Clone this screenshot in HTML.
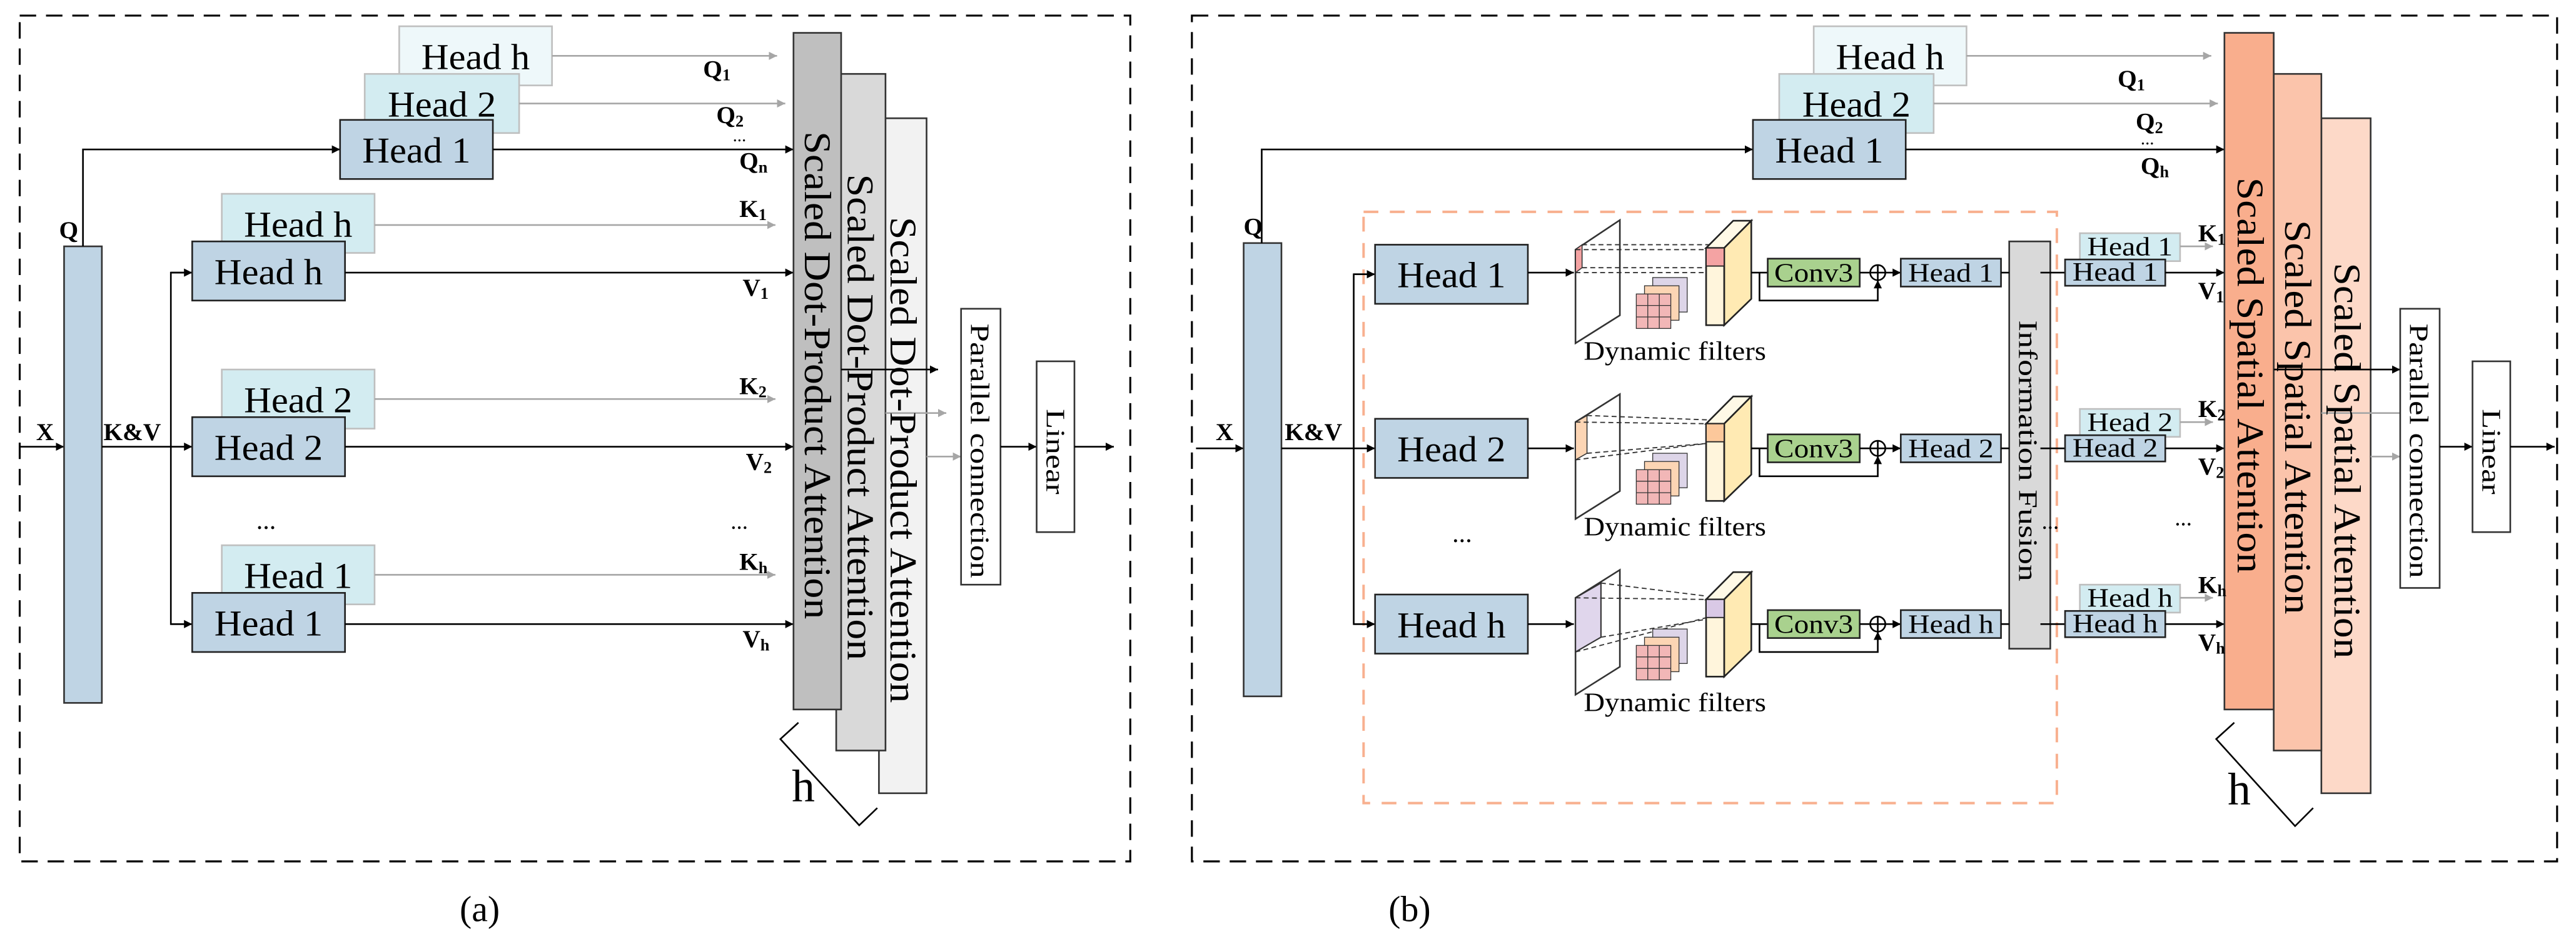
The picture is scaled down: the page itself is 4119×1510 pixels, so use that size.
<!DOCTYPE html>
<html><head><meta charset="utf-8"><style>
html,body{margin:0;padding:0;background:#fff;}
svg{display:block;}
svg text{font-family:"Liberation Serif","DejaVu Serif",serif;}
</style></head><body>
<svg width="4119" height="1510" viewBox="0 0 1568 574.8" preserveAspectRatio="none" xmlns="http://www.w3.org/2000/svg" font-family="'Liberation Serif', 'DejaVu Serif', serif">
<defs>
<marker id="ab" viewBox="0 0 10 10" refX="10" refY="5" markerWidth="5" markerHeight="5" orient="auto" markerUnits="userSpaceOnUse"><path d="M0,0 L10,5 L0,10 z" fill="#000"/></marker>
<marker id="ag" viewBox="0 0 10 10" refX="10" refY="5" markerWidth="5" markerHeight="5" orient="auto" markerUnits="userSpaceOnUse"><path d="M0,0 L10,5 L0,10 z" fill="#a6a6a6"/></marker>
</defs>
<g fill="none" stroke="#000" stroke-width="1">
<rect x="12" y="9.5" width="676" height="515" stroke-dasharray="10,6" stroke-width="1.2"/>
<rect x="725.5" y="9.5" width="831" height="515" stroke-dasharray="10,6" stroke-width="1.2"/>
</g>
<text x="292" y="561" font-size="22" text-anchor="middle">(a)</text>
<text x="858" y="561" font-size="22" text-anchor="middle">(b)</text>

<!-- ================= PANEL A ================= -->
<g stroke-width="1">
<line x1="12" y1="272" x2="39" y2="272" stroke="#000" marker-end="url(#ab)"/>
<rect x="39" y="150" width="23" height="278" fill="#bfd4e4" stroke="#333"/>
<polyline points="50.5,150 50.5,91 207,91" fill="none" stroke="#000" marker-end="url(#ab)"/>
<rect x="243" y="16" width="93" height="36" fill="#eef8fa" stroke="#bfbfbf"/>
<rect x="222" y="45" width="94" height="36" fill="#d3ecf1" stroke="#bfbfbf"/>
<rect x="207" y="73" width="93" height="36" fill="#bfd4e4" stroke="#222"/>
<line x1="336" y1="34" x2="473" y2="34" stroke="#a6a6a6" marker-end="url(#ag)"/>
<line x1="316" y1="63" x2="478" y2="63" stroke="#a6a6a6" marker-end="url(#ag)"/>
<line x1="300" y1="91" x2="483" y2="91" stroke="#000" marker-end="url(#ab)"/>
<line x1="62" y1="272" x2="117" y2="272" stroke="#000" marker-end="url(#ab)"/>
<polyline points="117,166 104,166 104,380 117,380" fill="none" stroke="#000"/>
<line x1="104" y1="166" x2="117" y2="166" stroke="#000" marker-end="url(#ab)"/>
<line x1="104" y1="380" x2="117" y2="380" stroke="#000" marker-end="url(#ab)"/>
<rect x="135" y="118" width="93" height="36" fill="#d3ecf1" stroke="#bfbfbf"/>
<rect x="117" y="147" width="93" height="36" fill="#bfd4e4" stroke="#222"/>
<rect x="135" y="225" width="93" height="36" fill="#d3ecf1" stroke="#bfbfbf"/>
<rect x="117" y="254" width="93" height="36" fill="#bfd4e4" stroke="#222"/>
<rect x="135" y="332" width="93" height="36" fill="#d3ecf1" stroke="#bfbfbf"/>
<rect x="117" y="361" width="93" height="36" fill="#bfd4e4" stroke="#222"/>
<line x1="228" y1="137" x2="472" y2="137" stroke="#a6a6a6" marker-end="url(#ag)"/>
<line x1="228" y1="243" x2="472" y2="243" stroke="#a6a6a6" marker-end="url(#ag)"/>
<line x1="228" y1="350" x2="472" y2="350" stroke="#a6a6a6" marker-end="url(#ag)"/>
<line x1="210" y1="166" x2="483" y2="166" stroke="#000" marker-end="url(#ab)"/>
<line x1="210" y1="272" x2="483" y2="272" stroke="#000" marker-end="url(#ab)"/>
<line x1="210" y1="380" x2="483" y2="380" stroke="#000" marker-end="url(#ab)"/>
<rect x="535" y="72" width="29" height="411" fill="#f2f2f2" stroke="#333"/>
<rect x="509" y="45" width="30" height="412" fill="#d9d9d9" stroke="#333"/>
<rect x="483" y="20" width="29" height="412" fill="#bfbfbf" stroke="#333"/>
<line x1="512" y1="225" x2="571" y2="225" stroke="#000" marker-end="url(#ab)"/>
<line x1="539" y1="251.5" x2="576" y2="251.5" stroke="#a6a6a6" marker-end="url(#ag)"/>
<line x1="564" y1="278" x2="585" y2="278" stroke="#a6a6a6" marker-end="url(#ag)"/>
<rect x="585" y="188" width="24" height="168" fill="#fff" stroke="#333"/>
<line x1="609" y1="272" x2="631" y2="272" stroke="#000" marker-end="url(#ab)"/>
<rect x="631" y="220" width="23" height="104" fill="#fff" stroke="#333"/>
<line x1="654" y1="272" x2="678" y2="272" stroke="#000" marker-end="url(#ab)"/>
<polyline points="486,440 475,450 523,502.5 534,492" fill="none" stroke="#000"/>
</g>
<g font-size="22" text-anchor="middle">
<text x="289.5" y="42" textLength="66" lengthAdjust="spacingAndGlyphs">Head h</text>
<text x="269" y="71" textLength="66" lengthAdjust="spacingAndGlyphs">Head 2</text>
<text x="253.5" y="99" textLength="66" lengthAdjust="spacingAndGlyphs">Head 1</text>
<text x="181.5" y="144" textLength="66" lengthAdjust="spacingAndGlyphs">Head h</text>
<text x="163.5" y="173" textLength="66" lengthAdjust="spacingAndGlyphs">Head h</text>
<text x="181.5" y="251" textLength="66" lengthAdjust="spacingAndGlyphs">Head 2</text>
<text x="163.5" y="280" textLength="66" lengthAdjust="spacingAndGlyphs">Head 2</text>
<text x="181.5" y="358" textLength="66" lengthAdjust="spacingAndGlyphs">Head 1</text>
<text x="163.5" y="387" textLength="66" lengthAdjust="spacingAndGlyphs">Head 1</text>
<text x="162" y="322" font-size="16">...</text>
<text x="450" y="322" font-size="14">...</text>
</g>
<g font-size="15" font-weight="bold">
<text x="22" y="268">X</text>
<text x="36" y="145">Q</text>
<text x="63" y="268">K&amp;V</text>
<text x="428" y="47">Q<tspan font-size="10" dy="2">1</tspan></text>
<text x="436" y="75">Q<tspan font-size="10" dy="2">2</tspan></text>
<text x="446" y="86" font-weight="normal" font-size="11">...</text>
<text x="450" y="103">Q<tspan font-size="10" dy="2">n</tspan></text>
<text x="450" y="132">K<tspan font-size="10" dy="2">1</tspan></text>
<text x="452" y="180">V<tspan font-size="10" dy="2">1</tspan></text>
<text x="450" y="240">K<tspan font-size="10" dy="2">2</tspan></text>
<text x="454" y="286">V<tspan font-size="10" dy="2">2</tspan></text>
<text x="450" y="347">K<tspan font-size="10" dy="2">h</tspan></text>
<text x="452" y="394">V<tspan font-size="10" dy="2">h</tspan></text>
</g>
<g font-size="23">
<text transform="translate(490,80) rotate(90)" textLength="297" lengthAdjust="spacingAndGlyphs">Scaled  Dot-Product Attention</text>
<text transform="translate(516,106) rotate(90)" textLength="296" lengthAdjust="spacingAndGlyphs">Scaled  Dot-Product Attention</text>
<text transform="translate(542,132) rotate(90)" textLength="296" lengthAdjust="spacingAndGlyphs">Scaled  Dot-Product Attention</text>
</g>
<text transform="translate(591,197) rotate(90)" font-size="16" textLength="155" lengthAdjust="spacingAndGlyphs">Parallel connection</text>
<text transform="translate(637,249) rotate(90)" font-size="16" textLength="52" lengthAdjust="spacingAndGlyphs">Linear</text>
<text x="482" y="488" font-size="28">h</text>

<!-- ================= PANEL B ================= -->
<g stroke-width="1">
<line x1="728" y1="273" x2="757" y2="273" stroke="#000" marker-end="url(#ab)"/>
<rect x="757" y="148" width="23" height="276" fill="#bfd4e4" stroke="#333"/>
<polyline points="768,148 768,91 1067,91" fill="none" stroke="#000" marker-end="url(#ab)"/>
<rect x="1104" y="16" width="93" height="36" fill="#eef8fa" stroke="#bfbfbf"/>
<rect x="1083" y="45" width="94" height="36" fill="#d3ecf1" stroke="#bfbfbf"/>
<rect x="1067" y="73" width="93" height="36" fill="#bfd4e4" stroke="#222"/>
<line x1="1197" y1="34" x2="1346" y2="34" stroke="#a6a6a6" marker-end="url(#ag)"/>
<line x1="1177" y1="63" x2="1350" y2="63" stroke="#a6a6a6" marker-end="url(#ag)"/>
<line x1="1160" y1="91" x2="1354" y2="91" stroke="#000" marker-end="url(#ab)"/>
<rect x="830" y="129" width="422" height="360" fill="none" stroke="#f8b08f" stroke-width="1.5" stroke-dasharray="9,7"/>
<line x1="780" y1="273" x2="837" y2="273" stroke="#000" marker-end="url(#ab)"/>
<polyline points="837,167 824,167 824,380 837,380" fill="none" stroke="#000"/>
<line x1="824" y1="167" x2="837" y2="167" stroke="#000" marker-end="url(#ab)"/>
<line x1="824" y1="380" x2="837" y2="380" stroke="#000" marker-end="url(#ab)"/>
<rect x="837" y="149" width="93" height="36" fill="#bfd4e4" stroke="#222"/>
<rect x="837" y="255" width="93" height="36" fill="#bfd4e4" stroke="#222"/>
<rect x="837" y="362" width="93" height="36" fill="#bfd4e4" stroke="#222"/>
<rect x="1223" y="147" width="25" height="248" fill="#d9d9d9" stroke="#333"/>
</g>

<g transform="translate(0,166)">
<line x1="930" y1="0" x2="958" y2="0" stroke="#000" marker-end="url(#ab)"/>
<polygon points="959,-14 986,-32 986,26 959,43" fill="#fff" stroke="#333"/>
<polygon points="959,-14 963,-17 963,-3 959,0" fill="#f4a3a3" stroke="#333" stroke-width="0.6"/>
<g stroke="#333" stroke-width="0.7" stroke-dasharray="3,2"><line x1="963" y1="-17" x2="1049" y2="-17"/><line x1="959" y1="-14" x2="1039" y2="-14"/><line x1="963" y1="-3" x2="1039" y2="-3"/><line x1="959" y1="0" x2="1039" y2="0"/></g>
<g stroke="#333" stroke-width="0.5"><rect x="1006" y="3" width="21" height="21" fill="#ddd5e8"/><rect x="1001" y="8" width="21" height="21" fill="#fcd5b4"/><rect x="996" y="13" width="21" height="21" fill="#f2b7b7"/>
<path d="M1003,13v21M1010,13v21M996,20h21M996,27h21" fill="none"/></g>
<polygon points="1038.5,-15 1055,-31.6 1066,-31.6 1049.5,-15" fill="#fff9e6" stroke="#222"/>
<polygon points="1049.5,-15 1066,-31.6 1066,16 1049.5,32" fill="#ffeab3" stroke="#222"/>
<rect x="1038.5" y="-15" width="11" height="47" fill="#fff5dc" stroke="#222"/>
<rect x="1038.5" y="-15" width="11" height="11" fill="#f4a3a3" stroke="#222" stroke-width="0.7"/>
<text x="964" y="53" font-size="16" textLength="111" lengthAdjust="spacingAndGlyphs">Dynamic filters</text>
</g>
<g transform="translate(0,273)">
<line x1="930" y1="0" x2="958" y2="0" stroke="#000" marker-end="url(#ab)"/>
<polygon points="959,-16 986,-33 986,26 959,43" fill="#fff" stroke="#333"/>
<polygon points="959,-16 966,-20 966,3 959,7" fill="#fcd5b4" stroke="#333" stroke-width="0.6"/>
<g stroke="#333" stroke-width="0.7" stroke-dasharray="3,2"><line x1="966" y1="-20" x2="1049" y2="-17"/><line x1="959" y1="-16" x2="1039" y2="-15"/><line x1="966" y1="3" x2="1039" y2="-3"/><line x1="959" y1="7" x2="1039" y2="-3"/></g>
<g stroke="#333" stroke-width="0.5"><rect x="1006" y="3" width="21" height="21" fill="#ddd5e8"/><rect x="1001" y="8" width="21" height="21" fill="#fcd5b4"/><rect x="996" y="13" width="21" height="21" fill="#f2b7b7"/>
<path d="M1003,13v21M1010,13v21M996,20h21M996,27h21" fill="none"/></g>
<polygon points="1038.5,-15 1055,-31.6 1066,-31.6 1049.5,-15" fill="#fff9e6" stroke="#222"/>
<polygon points="1049.5,-15 1066,-31.6 1066,16 1049.5,32" fill="#ffeab3" stroke="#222"/>
<rect x="1038.5" y="-15" width="11" height="47" fill="#fff5dc" stroke="#222"/>
<rect x="1038.5" y="-15" width="11" height="11" fill="#fcc89b" stroke="#222" stroke-width="0.7"/>
<text x="964" y="53" font-size="16" textLength="111" lengthAdjust="spacingAndGlyphs">Dynamic filters</text>
</g>
<g transform="translate(0,380)">
<line x1="930" y1="0" x2="958" y2="0" stroke="#000" marker-end="url(#ab)"/>
<polygon points="959,-16 986,-33 986,26 959,43" fill="#fff" stroke="#333"/>
<polygon points="959,-16 974.5,-25 974.5,8 959,17" fill="#e0d6ec" stroke="#333" stroke-width="0.8"/>
<g stroke="#333" stroke-width="0.7" stroke-dasharray="3,2"><line x1="974.5" y1="-25" x2="1039" y2="-17"/><line x1="959" y1="-16" x2="1039" y2="-15"/><line x1="974.5" y1="8" x2="1039" y2="-3"/><line x1="959" y1="17" x2="1039" y2="-4"/></g>
<g stroke="#333" stroke-width="0.5"><rect x="1006" y="3" width="21" height="21" fill="#ddd5e8"/><rect x="1001" y="8" width="21" height="21" fill="#fcd5b4"/><rect x="996" y="13" width="21" height="21" fill="#f2b7b7"/>
<path d="M1003,13v21M1010,13v21M996,20h21M996,27h21" fill="none"/></g>
<polygon points="1038.5,-15 1055,-31.6 1066,-31.6 1049.5,-15" fill="#fff9e6" stroke="#222"/>
<polygon points="1049.5,-15 1066,-31.6 1066,16 1049.5,32" fill="#ffeab3" stroke="#222"/>
<rect x="1038.5" y="-15" width="11" height="47" fill="#fff5dc" stroke="#222"/>
<rect x="1038.5" y="-15" width="11" height="11" fill="#d9c9e6" stroke="#222" stroke-width="0.7"/>
<text x="964" y="53" font-size="16" textLength="111" lengthAdjust="spacingAndGlyphs">Dynamic filters</text>
</g>

<g stroke-width="1">
<g transform="translate(0,166)">
<line x1="1066" y1="0" x2="1076" y2="0" stroke="#000"/>
<rect x="1076" y="-8.5" width="56" height="17" fill="#a9d18e" stroke="#222"/>
<line x1="1132" y1="0" x2="1138" y2="0" stroke="#000"/>
<circle cx="1143" cy="0" r="4.6" fill="#fff" stroke="#000"/>
<line x1="1138.4" y1="0" x2="1147.6" y2="0" stroke="#000"/><line x1="1143" y1="-4.6" x2="1143" y2="4.6" stroke="#000"/>
<polyline points="1071,0 1071,17 1143,17 1143,4.6" fill="none" stroke="#000" marker-end="url(#ab)"/>
<line x1="1147.6" y1="0" x2="1157" y2="0" stroke="#000" marker-end="url(#ab)"/>
<rect x="1157" y="-8.5" width="61" height="17" fill="#bfd4e4" stroke="#222"/>
<line x1="1218" y1="0" x2="1223" y2="0" stroke="#000"/>
<line x1="1242" y1="0" x2="1257" y2="0" stroke="#000"/>
<rect x="1266" y="-24" width="61" height="17" fill="#d3ecf1" stroke="#bfbfbf"/>
<rect x="1257" y="-8" width="61" height="16" fill="#bfd4e4" stroke="#222"/>
<line x1="1327" y1="-16" x2="1347" y2="-16" stroke="#a6a6a6" marker-end="url(#ag)"/>
<line x1="1318" y1="0" x2="1354" y2="0" stroke="#000" marker-end="url(#ab)"/>
</g>
<g transform="translate(0,273)">
<line x1="1066" y1="0" x2="1076" y2="0" stroke="#000"/>
<rect x="1076" y="-8.5" width="56" height="17" fill="#a9d18e" stroke="#222"/>
<line x1="1132" y1="0" x2="1138" y2="0" stroke="#000"/>
<circle cx="1143" cy="0" r="4.6" fill="#fff" stroke="#000"/>
<line x1="1138.4" y1="0" x2="1147.6" y2="0" stroke="#000"/><line x1="1143" y1="-4.6" x2="1143" y2="4.6" stroke="#000"/>
<polyline points="1071,0 1071,17 1143,17 1143,4.6" fill="none" stroke="#000" marker-end="url(#ab)"/>
<line x1="1147.6" y1="0" x2="1157" y2="0" stroke="#000" marker-end="url(#ab)"/>
<rect x="1157" y="-8.5" width="61" height="17" fill="#bfd4e4" stroke="#222"/>
<line x1="1218" y1="0" x2="1223" y2="0" stroke="#000"/>
<line x1="1242" y1="0" x2="1257" y2="0" stroke="#000"/>
<rect x="1266" y="-24" width="61" height="17" fill="#d3ecf1" stroke="#bfbfbf"/>
<rect x="1257" y="-8" width="61" height="16" fill="#bfd4e4" stroke="#222"/>
<line x1="1327" y1="-16" x2="1347" y2="-16" stroke="#a6a6a6" marker-end="url(#ag)"/>
<line x1="1318" y1="0" x2="1354" y2="0" stroke="#000" marker-end="url(#ab)"/>
</g>
<g transform="translate(0,380)">
<line x1="1066" y1="0" x2="1076" y2="0" stroke="#000"/>
<rect x="1076" y="-8.5" width="56" height="17" fill="#a9d18e" stroke="#222"/>
<line x1="1132" y1="0" x2="1138" y2="0" stroke="#000"/>
<circle cx="1143" cy="0" r="4.6" fill="#fff" stroke="#000"/>
<line x1="1138.4" y1="0" x2="1147.6" y2="0" stroke="#000"/><line x1="1143" y1="-4.6" x2="1143" y2="4.6" stroke="#000"/>
<polyline points="1071,0 1071,17 1143,17 1143,4.6" fill="none" stroke="#000" marker-end="url(#ab)"/>
<line x1="1147.6" y1="0" x2="1157" y2="0" stroke="#000" marker-end="url(#ab)"/>
<rect x="1157" y="-8.5" width="61" height="17" fill="#bfd4e4" stroke="#222"/>
<line x1="1218" y1="0" x2="1223" y2="0" stroke="#000"/>
<line x1="1242" y1="0" x2="1257" y2="0" stroke="#000"/>
<rect x="1266" y="-24" width="61" height="17" fill="#d3ecf1" stroke="#bfbfbf"/>
<rect x="1257" y="-8" width="61" height="16" fill="#bfd4e4" stroke="#222"/>
<line x1="1327" y1="-16" x2="1347" y2="-16" stroke="#a6a6a6" marker-end="url(#ag)"/>
<line x1="1318" y1="0" x2="1354" y2="0" stroke="#000" marker-end="url(#ab)"/>
</g>
<rect x="1413" y="72" width="30" height="411" fill="#fdd9c8" stroke="#333"/>
<rect x="1384" y="45" width="29" height="412" fill="#fbc4ab" stroke="#333"/>
<rect x="1354" y="20" width="30" height="412" fill="#f9ae8d" stroke="#333"/>
<line x1="1384" y1="225" x2="1461" y2="225" stroke="#000" marker-end="url(#ab)"/>
<line x1="1413" y1="251.5" x2="1466" y2="251.5" stroke="#a6a6a6" marker-end="url(#ag)"/>
<line x1="1443" y1="278" x2="1461" y2="278" stroke="#a6a6a6" marker-end="url(#ag)"/>
<rect x="1461" y="188" width="24" height="170" fill="#fff" stroke="#333"/>
<line x1="1485" y1="272" x2="1505" y2="272" stroke="#000" marker-end="url(#ab)"/>
<rect x="1505" y="220" width="23" height="104" fill="#fff" stroke="#333"/>
<line x1="1528" y1="272" x2="1555" y2="272" stroke="#000" marker-end="url(#ab)"/>
<polyline points="1360,440 1349,450 1397,503 1408,492" fill="none" stroke="#000"/>
</g>
<g font-size="22" text-anchor="middle">
<text x="1150.5" y="42" textLength="66" lengthAdjust="spacingAndGlyphs">Head h</text>
<text x="1130" y="71" textLength="66" lengthAdjust="spacingAndGlyphs">Head 2</text>
<text x="1113.5" y="99" textLength="66" lengthAdjust="spacingAndGlyphs">Head 1</text>
<text x="883.5" y="175" textLength="66" lengthAdjust="spacingAndGlyphs">Head 1</text>
<text x="883.5" y="281" textLength="66" lengthAdjust="spacingAndGlyphs">Head 2</text>
<text x="883.5" y="388" textLength="66" lengthAdjust="spacingAndGlyphs">Head h</text>
<text x="890" y="330" font-size="16">...</text>
<text x="1248" y="322" font-size="14">...</text>
<text x="1329" y="320" font-size="14">...</text>
</g>
<g font-size="16" text-anchor="middle">
<text x="1104" y="171.5" textLength="48" lengthAdjust="spacingAndGlyphs">Conv3</text>
<text x="1104" y="278.5" textLength="48" lengthAdjust="spacingAndGlyphs">Conv3</text>
<text x="1104" y="385.5" textLength="48" lengthAdjust="spacingAndGlyphs">Conv3</text>
<text x="1187.5" y="171.5" textLength="52" lengthAdjust="spacingAndGlyphs">Head 1</text>
<text x="1187.5" y="278.5" textLength="52" lengthAdjust="spacingAndGlyphs">Head 2</text>
<text x="1187.5" y="385.5" textLength="52" lengthAdjust="spacingAndGlyphs">Head h</text>
<text x="1296.5" y="155.5" textLength="52" lengthAdjust="spacingAndGlyphs">Head 1</text>
<text x="1287.5" y="171" textLength="52" lengthAdjust="spacingAndGlyphs">Head 1</text>
<text x="1296.5" y="262.5" textLength="52" lengthAdjust="spacingAndGlyphs">Head 2</text>
<text x="1287.5" y="278" textLength="52" lengthAdjust="spacingAndGlyphs">Head 2</text>
<text x="1296.5" y="369.5" textLength="52" lengthAdjust="spacingAndGlyphs">Head h</text>
<text x="1287.5" y="385" textLength="52" lengthAdjust="spacingAndGlyphs">Head h</text>
</g>
<g font-size="15" font-weight="bold">
<text x="740" y="268">X</text>
<text x="757" y="143">Q</text>
<text x="782" y="268">K&amp;V</text>
<text x="1289" y="53">Q<tspan font-size="10" dy="2">1</tspan></text>
<text x="1300" y="79">Q<tspan font-size="10" dy="2">2</tspan></text>
<text x="1303" y="88" font-weight="normal" font-size="11">...</text>
<text x="1303" y="106">Q<tspan font-size="10" dy="2">h</tspan></text>
<text x="1338" y="147">K<tspan font-size="10" dy="2">1</tspan></text>
<text x="1338" y="182">V<tspan font-size="10" dy="2">1</tspan></text>
<text x="1338" y="254">K<tspan font-size="10" dy="2">2</tspan></text>
<text x="1338" y="289">V<tspan font-size="10" dy="2">2</tspan></text>
<text x="1338" y="361">K<tspan font-size="10" dy="2">h</tspan></text>
<text x="1338" y="396">V<tspan font-size="10" dy="2">h</tspan></text>
</g>
<g font-size="23">
<text transform="translate(1362,108) rotate(90)" textLength="241" lengthAdjust="spacingAndGlyphs">Scaled  Spatial Attention</text>
<text transform="translate(1391,134) rotate(90)" textLength="240" lengthAdjust="spacingAndGlyphs">Scaled  Spatial Attention</text>
<text transform="translate(1421,160) rotate(90)" textLength="241" lengthAdjust="spacingAndGlyphs">Scaled  Spatial Attention</text>
</g>
<text transform="translate(1229,195) rotate(90)" font-size="16" textLength="159" lengthAdjust="spacingAndGlyphs">Information Fusion</text>
<text transform="translate(1467,197) rotate(90)" font-size="16" textLength="155" lengthAdjust="spacingAndGlyphs">Parallel connection</text>
<text transform="translate(1511,249) rotate(90)" font-size="16" textLength="52" lengthAdjust="spacingAndGlyphs">Linear</text>
<text x="1356" y="490" font-size="28">h</text>
</svg>
</body></html>
